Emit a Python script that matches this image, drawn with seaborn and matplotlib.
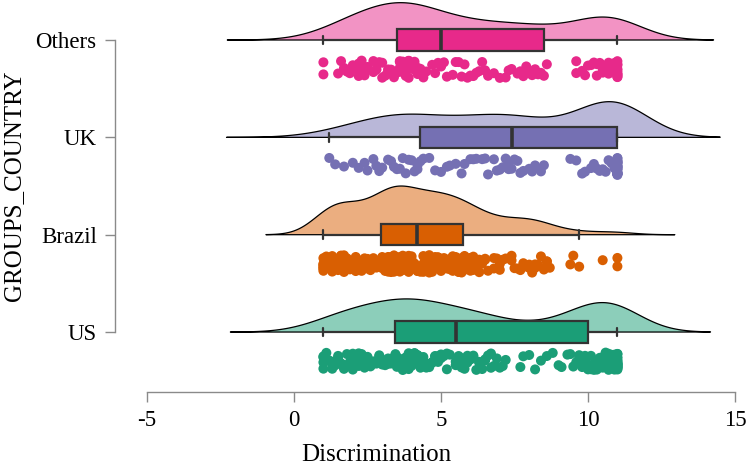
import numpy as np
import pandas as pd
import matplotlib
matplotlib.use("Agg")
import matplotlib.pyplot as plt
import seaborn as sns

# ---------------- data (observed score values and how many respondents gave each) ----------------
groups = ["Others", "UK", "Brazil", "US"]

others_vals = [1.0, 1.5, 1.6, 1.7, 1.8, 1.9, 2.0, 2.1, 2.2, 2.3, 2.4, 2.5, 2.7, 2.8, 2.9, 3.0, 3.1,
               3.2, 3.3, 3.4,
               3.5,
               3.6, 3.7, 3.8, 3.9, 4.0, 4.1, 4.2, 4.3, 4.4, 4.5, 4.7, 4.8, 4.9, 5.0,
               5.1, 5.2, 5.4, 5.5, 5.6, 5.7, 5.8, 5.9, 6.0, 6.1, 6.2, 6.3, 6.4, 6.5, 6.6, 6.8,
               7.0, 7.2, 7.3, 7.4, 7.6, 7.7, 7.8, 7.9, 8.0, 8.1, 8.2, 8.3, 8.4,
               8.5,
               8.6, 9.6, 9.8, 9.9, 10.0, 10.1, 10.2, 10.3, 10.4, 10.5, 10.6, 10.7, 10.8, 10.9, 11.0]
others_counts = [2, 1, 1, 1, 2, 1, 2, 1, 2, 2, 1, 2, 2, 2, 1, 2, 1,
                 2, 1, 1,
                 1,
                 4, 3, 3, 3, 3, 2, 2, 2, 2, 1, 1, 1, 1, 2,
                 1, 1, 1, 1, 1, 1, 1, 1, 1, 1, 1, 1, 1, 1, 1, 1,
                 1, 1, 1, 1, 1, 1, 1, 1, 1, 1, 1, 1, 1,
                 1,
                 1, 2, 1, 1, 1, 1, 1, 2, 1, 2, 1, 2, 1, 2, 11]

uk_vals = [1.2, 1.4, 1.7, 2.0, 2.2, 2.4, 2.5, 2.7, 2.8, 2.9, 3.0, 3.2, 3.3, 3.4, 3.5, 3.6, 3.7, 3.8,
           3.9, 4.0, 4.1, 4.2,
           4.3,
           4.4, 4.6, 4.8, 5.0, 5.2, 5.3, 5.5, 5.7, 5.8, 6.0, 6.1, 6.2, 6.4, 6.5, 6.6, 6.8, 6.9,
           7.0, 7.1, 7.2, 7.3,
           7.4,
           7.5, 7.6, 7.7, 7.8, 8.0, 8.1, 8.2, 8.4, 8.5, 9.4, 9.6, 9.8, 9.9, 10.1, 10.2, 10.3,
           10.4, 10.5, 10.6, 10.7, 10.8, 10.9,
           11.0]
uk_counts = [1, 1, 1, 1, 1, 1, 1, 1, 1, 1, 1, 1, 1, 1, 1, 1, 1, 1,
             1, 1, 1, 2,
             1,
             1, 1, 1, 1, 1, 1, 1, 1, 1, 1, 1, 1, 1, 1, 1, 1, 1,
             1, 1, 1, 2,
             1,
             1, 1, 1, 1, 1, 1, 1, 1, 1, 1, 1, 1, 1, 1, 1, 1,
             1, 1, 1, 1, 1, 1,
             24]

brazil_vals = [1.0, 1.1, 1.2, 1.3, 1.4, 1.5, 1.6, 1.7, 1.8, 1.9, 2.0, 2.1, 2.2, 2.3, 2.4, 2.5, 2.6,
               2.7, 2.8, 2.9,
               3.0, 3.1, 3.2, 3.3, 3.4, 3.5, 3.6, 3.7, 3.8, 3.9, 4.0, 4.1, 4.2,
               4.3, 4.4, 4.5, 4.6, 4.7, 4.8, 4.9, 5.0, 5.1, 5.2, 5.3, 5.4, 5.5, 5.6, 5.7,
               5.8, 5.9, 6.0, 6.1, 6.2, 6.3, 6.4, 6.5, 6.6, 6.8, 6.9, 7.0, 7.1, 7.2, 7.4,
               7.5, 7.6, 7.7, 7.8, 7.9, 8.0, 8.1, 8.2, 8.3, 8.4, 8.5, 8.6, 8.7,
               9.4, 9.5, 9.7, 10.5, 11.0]
brazil_counts = [7, 2, 3, 3, 3, 3, 3, 3, 3, 2, 2, 2, 2, 2, 2, 2, 1,
                 2, 2, 1,
                 4, 5, 5, 5, 5, 5, 4, 4, 4, 4, 3, 1, 2,
                 3, 4, 3, 4, 3, 4, 3, 3, 3, 3, 3, 3, 3, 3, 3,
                 3, 3, 2, 2, 2, 2, 1, 2, 1, 2, 1, 2, 1, 1, 2,
                 1, 1, 1, 2, 1, 2, 1, 2, 1, 1, 1, 2, 1,
                 1, 1, 1, 1, 2]

us_vals = [1.0, 1.1, 1.2, 1.3, 1.4, 1.5, 1.6, 1.7, 1.8, 1.9, 2.0, 2.1, 2.2, 2.3, 2.4, 2.5, 2.6,
           2.7, 2.8, 2.9, 3.0, 3.1, 3.2, 3.3, 3.4,
           3.45,
           3.5, 3.6, 3.7, 3.8, 3.9, 4.0, 4.1, 4.2, 4.3, 4.4, 4.5, 4.6, 4.7, 4.8, 4.9,
           5.0, 5.1, 5.2, 5.3,
           5.5, 5.6, 5.7, 5.8, 5.9, 6.0, 6.1, 6.2, 6.3, 6.4, 6.5, 6.6, 6.7, 6.8, 6.9, 7.0,
           7.1, 7.2, 7.7, 7.8, 8.0, 8.2, 8.4, 8.6, 8.8, 9.0, 9.1, 9.3, 9.4, 9.5, 9.6, 9.7,
           9.8, 9.9,
           10.0, 10.1, 10.2, 10.3, 10.4, 10.5, 10.6, 10.7, 10.8, 10.9, 11.0]
us_counts = [4, 1, 2, 1, 2, 2, 1, 2, 1, 2, 2, 1, 2, 2, 2, 2, 2,
             2, 2, 2, 2, 2, 2, 2, 2,
             1,
             3, 3, 3, 3, 3, 3, 2, 3, 2, 3, 2, 3, 2, 3, 2,
             2, 1, 2, 1,
             2, 2, 2, 2, 2, 2, 2, 1, 2, 1, 2, 1, 2, 1, 1, 1,
             1, 1, 1, 1, 1, 1, 1, 1, 1, 1, 1, 1, 1, 1, 1, 2,
             2, 2,
             3, 2, 3, 2, 3, 3, 3, 3, 3, 3, 20]

colors = {"Others": "#E7298A", "UK": "#7570B3", "Brazil": "#D95F02", "US": "#1B9E77"}
x_ticks = [-5, 0, 5, 10, 15]
x_label = "Discrimination"
y_label = "GROUPS_COUNTRY"

values = {
    "Others": np.repeat(others_vals, others_counts),
    "UK": np.repeat(uk_vals, uk_counts),
    "Brazil": np.repeat(brazil_vals, brazil_counts),
    "US": np.repeat(us_vals, us_counts),
}

# ---------------- layout ----------------
sns.set_theme(style="ticks")
plt.rcParams["font.family"] = ["Liberation Serif", "DejaVu Serif"]

level = {"US": 0, "Brazil": 1, "UK": 2, "Others": 3}

rows = []
for g in groups:
    for v in values[g]:
        rows.append({"group": g, "value": float(v), "pos": level[g], "ptpos": level[g] - 0.3})
df = pd.DataFrame(rows)

W, H = 749, 468
AX_L, AX_R, AX_B = 147, 735, 392
fig = plt.figure(figsize=(W / 100, H / 100), dpi=100)
ax = fig.add_axes([AX_L / W, (H - AX_B) / H, (AX_R - AX_L) / W, AX_B / H])


def kde_nrd0(x):
    x = np.asarray(x, float)
    n = len(x)
    sd = x.std(ddof=1)
    iqr = np.subtract(*np.percentile(x, [75, 25]))
    bw = 0.9 * min(sd, iqr / 1.34) * n ** -0.2
    grid = np.linspace(x.min() - 3 * bw, x.max() + 3 * bw, 512)
    d = np.exp(-0.5 * ((grid[:, None] - x[None, :]) / bw) ** 2).sum(1) / (n * bw * np.sqrt(2 * np.pi))
    return grid, d


kdes = {g: kde_nrd0(values[g]) for g in groups}
dmax = max(d.max() for _, d in kdes.values())
scale = 0.5 / dmax

for g in groups:
    grid, d = kdes[g]
    y0 = level[g]
    xs = np.concatenate([grid, grid[::-1]])
    ys = np.concatenate([y0 + d * scale, np.full_like(grid, y0)])
    ax.fill(xs, ys, facecolor=colors[g], alpha=0.5, edgecolor="none", zorder=1)
    ax.fill(xs, ys, facecolor="none", edgecolor="black", linewidth=0.9, zorder=1.5)

np.random.seed(7)
sns.stripplot(data=df, x="value", y="ptpos", hue="group", palette=colors, orient="h",
              native_scale=True, jitter=0.09, size=7.2, linewidth=0, dodge=False,
              legend=False, ax=ax, zorder=3)

sns.boxplot(data=df, x="value", y="pos", hue="group", palette=colors, orient="h",
            native_scale=True, width=0.22, showfliers=False, linecolor="#333333",
            linewidth=1.6, dodge=False, legend=False, saturation=1, ax=ax,
            capwidths=0.09, medianprops=dict(linewidth=2.6, color="#333333"))

ax.set_xlim(-5, 15)
ax.set_ylim(-0.616, 3.411)
ax.set_xticks(x_ticks)
ax.set_xticklabels([str(t) for t in x_ticks])
ax.set_yticks([level[g] for g in groups])
ax.set_yticklabels(groups)

for s in ["top", "right"]:
    ax.spines[s].set_visible(False)
ax.spines["left"].set_position(("outward", 23))
ax.spines["left"].set_bounds(0, 3)
ax.spines["bottom"].set_bounds(-5, 15)
for s in ["left", "bottom"]:
    ax.spines[s].set_color("#8a8a8a")
    ax.spines[s].set_linewidth(1.0)

ax.tick_params(axis="both", length=7.2, width=1.0, color="#8a8a8a", labelsize=16.5,
               labelcolor="black")
ax.tick_params(axis="x", pad=5.5)
ax.tick_params(axis="y", pad=6)

ax.set_xlabel(x_label, fontsize=18, color="black")
ax.set_ylabel(y_label, fontsize=18, color="black")
ax.xaxis.set_label_coords((376 - AX_L) / (AX_R - AX_L), (AX_B - 444) / AX_B)
ax.xaxis.label.set_va("top")
ax.yaxis.set_label_coords((25 - AX_L) / (AX_R - AX_L), (AX_B - 186) / AX_B)

fig.savefig("out.png", dpi=100)
